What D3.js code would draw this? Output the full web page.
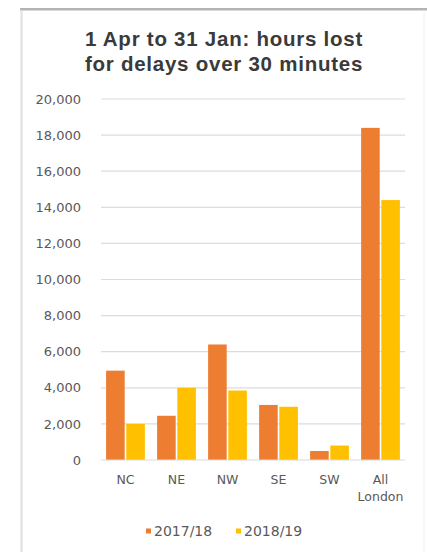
<!DOCTYPE html>
<html>
<head>
<meta charset="utf-8">
<script src="https://cdn.jsdelivr.net/npm/d3@7"></script>
<style>
  html, body { margin: 0; padding: 0; background: #fff; }
  svg { display: block; }
</style>
</head>
<body>
<div id="chart"></div>
<script>
// values
let regions = ["NC", "NE", "NW", "SE", "SW", "All London"];
let seriesNames = ["2017/18", "2018/19"];
let hours1718 = [4950, 2450, 6400, 3050, 500, 18400];
let hours1819 = [2000, 4000, 3850, 2950, 800, 14400];
let yTicks = [0, 2000, 4000, 6000, 8000, 10000, 12000, 14000, 16000, 18000, 20000];
let titleLines = ["1 Apr to 31 Jan: hours lost", "for delays over 30 minutes"];

let colors = { "2017/18": "#ED7D31", "2018/19": "#FFC000" };

let W = 427, H = 552;
let svg = d3.select("#chart").append("svg")
    .attr("width", W)
    .attr("height", H);

// frame round the picture
svg.append("rect").attr("x", 20).attr("y", 8).attr("width", W - 20).attr("height", 2.5).attr("fill", "#b3b3b3");
svg.append("line").attr("x1", 21.5).attr("x2", 21.5).attr("y1", 10).attr("y2", H)
    .attr("stroke", "#e0e0e0").attr("stroke-width", 2);
svg.append("line").attr("x1", 424).attr("x2", 424).attr("y1", 10).attr("y2", H)
    .attr("stroke", "#f0f0f0").attr("stroke-width", 1);

// title
svg.append("g").selectAll("text")
    .data(titleLines)
    .join("text")
    .attr("x", 224)
    .attr("y", (d, i) => 46 + i * 25)
    .attr("text-anchor", "middle")
    .attr("font-family", "Liberation Sans, Arial, sans-serif")
    .attr("font-weight", "bold")
    .attr("font-size", 20.5)
    .attr("letter-spacing", 0.75)
    .attr("fill", "#3a3a3a")
    .text(d => d);

let tableRows = regions.map((r, i) => ({ region: r, "2017/18": hours1718[i], "2018/19": hours1819[i] }));

let x0 = d3.scaleBand().domain(regions).range([101, 405]).paddingInner(0.24).paddingOuter(0.1);
let x1 = d3.scaleBand().domain(seriesNames).range([0, x0.bandwidth()]).paddingInner(0.08);
let y = d3.scaleLinear().domain([0, 20000]).range([460, 99]);

// gridlines
svg.append("g")
    .selectAll("line")
    .data(yTicks.filter(d => d > 0))
    .join("line")
    .attr("x1", 101).attr("x2", 405)
    .attr("y1", d => y(d)).attr("y2", d => y(d))
    .attr("stroke", "#dcdcdc").attr("stroke-width", 1.2);

// y axis labels
let yAxis = d3.axisLeft(y).tickValues(yTicks).tickSize(0).tickPadding(0)
    .tickFormat(d3.format(","));
svg.append("g")
    .attr("transform", "translate(81,0)")
    .call(yAxis)
    .call(g => g.select(".domain").remove())
    .call(g => g.selectAll("text")
        .attr("font-family", "DejaVu Sans, sans-serif")
        .attr("font-size", 13)
        .attr("fill", "#595959"));

// bars
svg.append("g")
    .selectAll("g")
    .data(tableRows)
    .join("g")
    .attr("transform", d => `translate(${x0(d.region)},0)`)
    .selectAll("rect")
    .data(d => seriesNames.map(s => ({ key: s, value: d[s] })))
    .join("rect")
    .attr("x", d => x1(d.key))
    .attr("width", x1.bandwidth())
    .attr("y", d => y(d.value))
    .attr("height", d => y(0) - y(d.value))
    .attr("fill", d => colors[d.key]);

// baseline
svg.append("line")
    .attr("x1", 101).attr("x2", 405)
    .attr("y1", y(0)).attr("y2", y(0))
    .attr("stroke", "#d9d9d9").attr("stroke-width", 1.2);

// x axis labels (All London wraps on two lines)
let xLabels = svg.append("g")
    .selectAll("text")
    .data(regions)
    .join("text")
    .attr("x", d => x0(d) + x0.bandwidth() / 2)
    .attr("y", 484)
    .attr("text-anchor", "middle")
    .attr("font-family", "DejaVu Sans, sans-serif")
    .attr("font-size", 12.5)
    .attr("fill", "#595959");
xLabels.each(function(d) {
    let words = d.split(" ");
    d3.select(this).selectAll("tspan")
        .data(words)
        .join("tspan")
        .attr("x", x0(d) + x0.bandwidth() / 2)
        .attr("dy", (w, i) => i === 0 ? 0 : 17)
        .text(w => w);
});

// legend
let legendX = [146, 236];
let legend = svg.append("g")
    .selectAll("g")
    .data(seriesNames)
    .join("g")
    .attr("transform", (d, i) => `translate(${legendX[i]},531)`);
legend.append("rect")
    .attr("x", 0).attr("y", -2.5).attr("width", 5).attr("height", 5)
    .attr("fill", d => colors[d]);
legend.append("text")
    .attr("x", 8).attr("y", 5)
    .attr("font-family", "DejaVu Sans, sans-serif")
    .attr("font-size", 14)
    .attr("fill", "#595959")
    .text(d => d);
</script>
</body>
</html>
